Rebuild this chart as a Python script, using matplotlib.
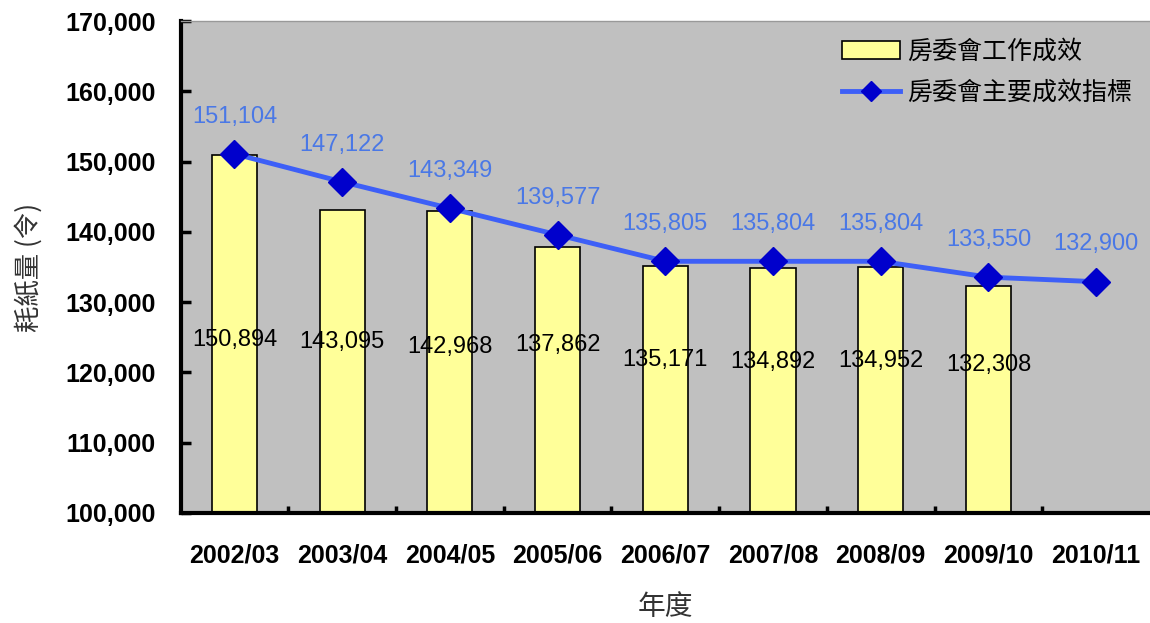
import numpy as np
import matplotlib
matplotlib.use("Agg")
import matplotlib.pyplot as plt
from matplotlib.ticker import FuncFormatter, FixedLocator

plt.rcParams['font.family'] = ['Liberation Sans', 'Noto Sans CJK TC', 'DejaVu Sans']

# 數據
years = ['2002/03', '2003/04', '2004/05', '2005/06', '2006/07',
         '2007/08', '2008/09', '2009/10', '2010/11']
actual = [150894, 143095, 142968, 137862, 135171, 134892, 134952, 132308]
target = [151104, 147122, 143349, 139577, 135805, 135804, 135804, 133550, 132900]

# 柱狀標籤的位置 (y)
bar_label_y = [124600, 124350, 123650, 123900, 121800, 121500, 121650, 121100]

cjk = ['Noto Sans CJK TC', 'DejaVu Sans']

fig = plt.figure(figsize=(11.5, 6.23), dpi=100)
ax = fig.add_axes([0.157, 0.177, 0.843, 0.789])
ax.set_facecolor('#c0c0c0')

x = np.arange(len(years))
ax.bar(x[:len(actual)], actual, width=0.42, color='#ffff99', edgecolor='black',
       linewidth=1.2, label='房委會工作成效', zorder=2)
ax.plot(x, target, color='#3d5ff7', linewidth=3.5, marker='D', markersize=14,
        markerfacecolor='#0000cc', markeredgecolor='#0000cc',
        label='房委會主要成效指標', zorder=3)

for i, v in enumerate(target):
    ax.text(x[i], v + 5300, f'{v:,}', ha='center', va='center',
            fontsize=17, color='#4a78e6', zorder=4)
for i, v in enumerate(actual):
    ax.text(x[i], bar_label_y[i], f'{v:,}', ha='center', va='center',
            fontsize=17, color='black', zorder=4)

ax.set_ylim(100000, 170000)
ax.set_xlim(-0.5, len(years) - 0.5)
ax.set_yticks(np.arange(100000, 170001, 10000))
ax.yaxis.set_major_formatter(FuncFormatter(lambda v, p: f'{int(v):,}'))
ax.set_xticks(x)
ax.set_xticklabels(years)
ax.xaxis.set_minor_locator(FixedLocator(x[:-1] + 0.5))

for lab in ax.get_yticklabels() + ax.get_xticklabels():
    lab.set_fontweight('bold')
    lab.set_fontsize(18)

ax.tick_params(axis='y', direction='in', length=7, width=2.5, pad=18)
ax.tick_params(axis='x', which='major', length=0, pad=22)
ax.tick_params(axis='x', which='minor', direction='in', length=5, width=2.5)

ax.spines['left'].set_linewidth(3)
ax.spines['bottom'].set_linewidth(3)
ax.spines['top'].set_color('#999999')
ax.spines['top'].set_linewidth(1)
ax.spines['right'].set_visible(False)

ax.set_ylabel('耗紙量 (令)', family=cjk, fontsize=19, color='#333333', labelpad=16)
ax.set_xlabel('年度', family=cjk, fontsize=20, color='#333333', labelpad=18)

handles, labels = ax.get_legend_handles_labels()
leg = ax.legend(handles[::-1], labels[::-1], loc='upper right',
                bbox_to_anchor=(1.005, 1.01), frameon=False,
                prop={'family': cjk, 'size': 18},
                handlelength=2.3, handletextpad=0.3, labelspacing=0.6,
                markerscale=0.7)

fig.savefig('out.png', dpi=100)
